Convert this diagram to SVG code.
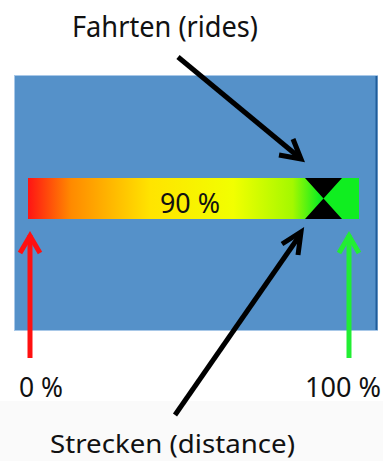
<svg xmlns="http://www.w3.org/2000/svg" width="383" height="461" viewBox="0 0 383 461">
<style>
.t{font-family:"Noto Sans","Open Sans",sans-serif;fill:#111;}
.arr{fill:none;stroke-width:5;stroke-linecap:butt;stroke-linejoin:miter;}
</style>
<defs>
<linearGradient id="g" x1="28" y1="0" x2="359" y2="0" gradientUnits="userSpaceOnUse">
<stop offset="0" stop-color="#ff1414"/>
<stop offset="0.13" stop-color="#ff8a00"/>
<stop offset="0.37" stop-color="#ffe400"/>
<stop offset="0.62" stop-color="#f2ff00"/>
<stop offset="0.8" stop-color="#a4f800"/>
<stop offset="0.88" stop-color="#10ee20"/>
<stop offset="1" stop-color="#10ee20"/>
</linearGradient>
</defs>
<rect x="0" y="401" width="383" height="60" fill="#fafafa"/>
<g id="panel">
<rect x="14.5" y="75.5" width="363" height="255" fill="#5591c9" stroke="#a8c8e8" stroke-width="1"/>
<line x1="376.5" y1="76" x2="376.5" y2="330" stroke="#1f5c9a" stroke-width="2"/>
</g>
<g id="bar">
<rect x="28" y="178" width="331" height="41" fill="url(#g)"/>
<polygon points="305,178 342,178 323.5,198.5 342,219 305,219 323.5,198.5" fill="#000"/>
<text class="t" x="190" y="213" font-size="27" text-anchor="middle" textLength="60" lengthAdjust="spacingAndGlyphs">90 %</text>
</g>
<g id="connectors">
<g stroke="#000">
<line class="arr" x1="178" y1="57" x2="300" y2="158"/>
<polyline class="arr" points="279,155 301,159 293,139"/>
<line class="arr" x1="175" y1="415" x2="300" y2="235"/>
<polyline class="arr" points="282,244 301,232 298,255"/>
</g>
<g stroke="#ff1010">
<line class="arr" x1="30" y1="358" x2="30" y2="235"/>
<polyline class="arr" points="20,253 30,236 40,253"/>
</g>
<g stroke="#22ee33">
<line class="arr" x1="349" y1="358" x2="349" y2="235"/>
<polyline class="arr" points="339,253 349,236 359,253"/>
</g>
</g>
<g id="label-rides"><text class="t" x="72" y="37" font-size="29" textLength="186" lengthAdjust="spacingAndGlyphs">Fahrten (rides)</text></g>
<g id="label-0"><text class="t" x="19" y="397" font-size="27" textLength="44" lengthAdjust="spacingAndGlyphs">0 %</text></g>
<g id="label-100"><text class="t" x="305" y="397" font-size="27" textLength="76" lengthAdjust="spacingAndGlyphs">100 %</text></g>
<g id="label-distance"><text class="t" x="50" y="453" font-size="26" textLength="245" lengthAdjust="spacingAndGlyphs">Strecken (distance)</text></g>
</svg>
